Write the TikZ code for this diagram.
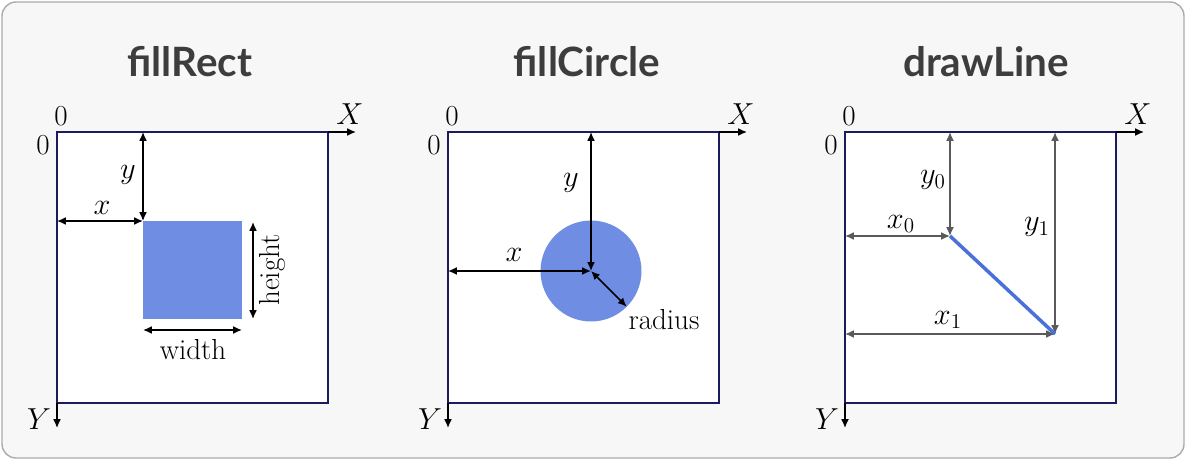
\documentclass[tikz,border=0pt]{standalone}
\usepackage{fontspec}
\usepackage{amsmath}
\usetikzlibrary{arrows.meta}
\newfontfamily\titlefont{Lato}
\definecolor{panelbg}{HTML}{F7F7F7}
\definecolor{panelrim}{HTML}{ABABAB}
\definecolor{navy}{HTML}{1B1B5E}
\definecolor{shapeblue}{HTML}{6F8DE3}
\definecolor{lineblue}{HTML}{4A70DC}
\definecolor{dimgray}{HTML}{5A5A5A}
\definecolor{titlegray}{HTML}{3D3D3D}

\begin{document}
\begin{tikzpicture}[x=0.02cm,y=-0.02cm,
    title/.style={font=\titlefont\bfseries\fontsize{23}{26}\selectfont,text=titlegray},
    lbl/.style={font=\fontsize{16.5}{19}\selectfont,inner sep=0pt},
    canvas/.style={draw=navy,fill=white,line width=1.1pt,minimum width=5.42cm,
        minimum height=5.42cm,anchor=north west,inner sep=0pt,outer sep=0pt},
    axis/.style={line width=0.9pt,-{Latex[length=5pt,width=4.5pt]}},
    dim/.style={line width=0.9pt,{Latex[length=5pt,width=4.5pt]}-{Latex[length=5pt,width=4.5pt]}},
    gdim/.style={dim,draw=dimgray}]
    \useasboundingbox (0,0) rectangle (1186,460);
    \draw[draw=panelrim,fill=panelbg,line width=0.8pt,rounded corners=0.28cm] (2,2) rectangle (1184,458);

    % titles
    \node[title] (tRect) at (190,62) {fillRect};
    \node[title] (tCircle) at (587,62) {fillCircle};
    \node[title] (tLine) at (986,62) {drawLine};

    % fillRect
    \node[canvas] (sqA) at (57,132) {};
    \coordinate (XA) at (356,132);
    \coordinate (YA) at (57,428);
    \draw[axis] (sqA.north east) -- (XA);
    \draw[axis] (sqA.south west) -- (YA);
    \node[lbl] (zA1) at (61,116) {0};
    \node[lbl] (zA2) at (43,145) {0};
    \node[lbl] (lXA) at (350,114) {$X$};
    \node[lbl] (lYA) at (39,419) {$Y$};
    \node[fill=shapeblue,minimum width=1.98cm,minimum height=1.96cm,anchor=north west,
        inner sep=0pt,outer sep=0pt] (rect) at (143,221) {};
    \coordinate (topA) at (143,132);
    \coordinate (leftA) at (57,221);
    \coordinate (h0) at (253,222);
    \coordinate (h1) at (253,319);
    \coordinate (w0) at (143,330);
    \coordinate (w1) at (242,330);
    \draw[dim] (topA) -- (rect.north west);
    \draw[dim] (leftA) -- (rect.north west);
    \draw[dim] (h0) -- (h1);
    \draw[dim] (w0) -- (w1);
    \node[lbl] (ly) at (128,175) {$y$};
    \node[lbl] (lx) at (102,208) {$x$};
    \node[lbl,rotate=90] (lh) at (272,270) {height};
    \node[lbl] (lw) at (193,350) {width};

    % fillCircle
    \node[canvas] (sqB) at (448,132) {};
    \coordinate (XB) at (747,132);
    \coordinate (YB) at (448,428);
    \draw[axis] (sqB.north east) -- (XB);
    \draw[axis] (sqB.south west) -- (YB);
    \node[lbl] (zB1) at (452,116) {0};
    \node[lbl] (zB2) at (434,145) {0};
    \node[lbl] (lXB) at (741,114) {$X$};
    \node[lbl] (lYB) at (430,419) {$Y$};
    \node[circle,fill=shapeblue,minimum size=2.02cm,inner sep=0pt,outer sep=0pt] (disc) at (591,271) {};
    \coordinate (topB) at (591,132);
    \coordinate (leftB) at (448,271);
    \draw[dim] (topB) -- (disc.center);
    \draw[dim] (leftB) -- (disc.center);
    \draw[dim] (disc.center) -- (disc.-45);
    \node[lbl] (lyB) at (571,183) {$y$};
    \node[lbl] (lxB) at (514,255) {$x$};
    \node[lbl] (lr) at (664,320) {radius};

    % drawLine
    \node[canvas] (sqC) at (845,132) {};
    \coordinate (XC) at (1144,132);
    \coordinate (YC) at (845,428);
    \draw[axis] (sqC.north east) -- (XC);
    \draw[axis] (sqC.south west) -- (YC);
    \node[lbl] (zC1) at (849,116) {0};
    \node[lbl] (zC2) at (831,145) {0};
    \node[lbl] (lXC) at (1138,114) {$X$};
    \node[lbl] (lYC) at (827,419) {$Y$};
    \coordinate (p0) at (950,236);
    \coordinate (p1) at (1055,334);
    \coordinate (top0) at (950,132);
    \coordinate (top1) at (1055,132);
    \coordinate (left0) at (845,236);
    \coordinate (left1) at (845,334);
    \draw[gdim] (top0) -- (p0);
    \draw[gdim] (left0) -- (p0);
    \draw[gdim] (top1) -- (p1);
    \draw[gdim] (left1) -- (p1);
    \draw[lineblue,line width=2pt] (p0) -- (p1);
    \node[lbl] (ly0) at (933,180) {$y_0$};
    \node[lbl] (lx0) at (901,224) {$x_0$};
    \node[lbl] (ly1) at (1037,227) {$y_1$};
    \node[lbl] (lx1) at (948,320) {$x_1$};
\end{tikzpicture}
\end{document}
